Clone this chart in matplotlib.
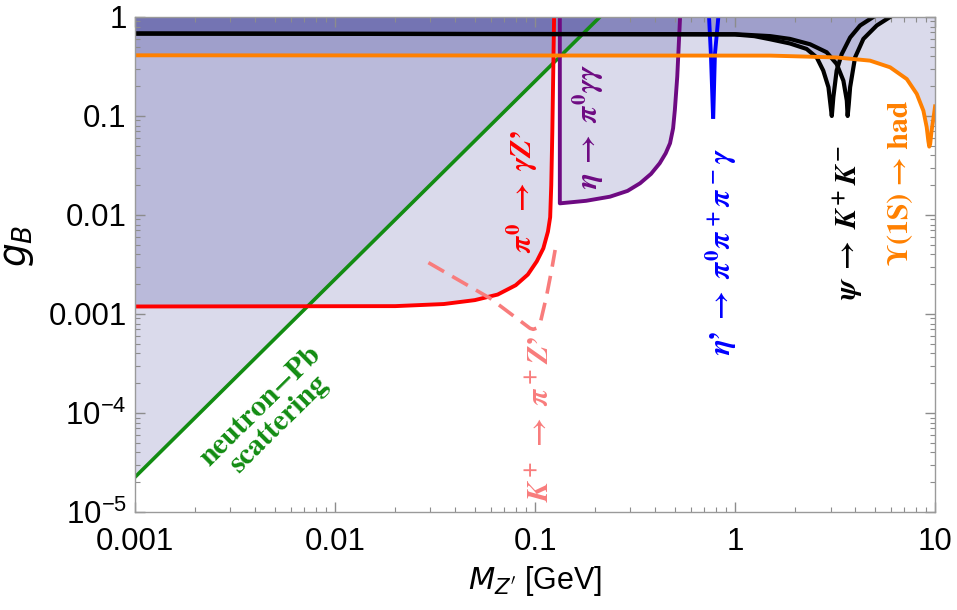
import numpy as np
import matplotlib
matplotlib.use("Agg")
import matplotlib.pyplot as plt
from matplotlib.ticker import FixedLocator, FixedFormatter, LogLocator, NullFormatter

plt.rcParams['font.family'] = ['Liberation Sans', 'DejaVu Sans']
plt.rcParams['mathtext.fontset'] = 'custom'
plt.rcParams['mathtext.rm'] = 'STIXGeneral:bold'
plt.rcParams['mathtext.it'] = 'STIXGeneral:italic:bold'
plt.rcParams['mathtext.bf'] = 'STIXGeneral:bold'
plt.rcParams['mathtext.sf'] = 'Liberation Sans'
plt.rcParams['mathtext.fallback'] = 'stix'

# neutron-Pb scattering
green_x = [0.001, 0.211]
green_g = [2.25e-5, 1.0]

# pi0 -> gamma Z'
red_x = [0.001, 0.02, 0.035, 0.05, 0.065, 0.08, 0.092, 0.102, 0.110, 0.116, 0.119, 0.1205, 0.122, 0.1245]
red_g = [0.00119, 0.0012, 0.00126, 0.00138, 0.00157, 0.00195, 0.0025, 0.0034, 0.0046, 0.0068, 0.0095, 0.02, 0.07, 1.0]

# eta -> pi0 gamma gamma
purple_x = [0.133, 0.133, 0.18, 0.237, 0.29, 0.335, 0.38, 0.42, 0.45, 0.473, 0.49, 0.50, 0.514, 0.531]
purple_g = [1.0, 0.0131, 0.0139, 0.0153, 0.0175, 0.0209, 0.026, 0.0333, 0.042, 0.053, 0.075, 0.115, 0.25, 1.0]

# eta' -> pi0 pi+ pi- gamma
blue_lx = [0.741, 0.757, 0.776]
blue_lg = [1.0, 0.42, 0.098]
blue_rx = [0.825, 0.793, 0.778]
blue_rg = [1.0, 0.42, 0.098]

# psi -> K+ K-  (J/psi and psi(2S))
psi1_x = [0.001, 1.0, 1.25, 1.5, 1.88, 2.28, 2.56, 2.76, 2.93, 3.02, 3.045, 3.10, 3.22, 3.41, 3.76, 4.22, 4.91]
psi1_g = [0.68, 0.665, 0.64, 0.595, 0.54, 0.475, 0.39, 0.287, 0.195, 0.115, 0.10, 0.155, 0.287, 0.42, 0.62, 0.82, 1.0]
psi2_x = [0.001, 1.0, 1.5, 1.88, 2.37, 2.87, 3.22, 3.48, 3.62, 3.655, 3.70, 3.76, 3.98, 4.38, 5.11, 5.96]
psi2_g = [0.68, 0.67, 0.64, 0.60, 0.53, 0.44, 0.335, 0.227, 0.143, 0.10, 0.13, 0.195, 0.39, 0.60, 0.82, 1.0]

# Upsilon(1S) -> had
ups_x = [0.001, 1.5, 3.22, 4.73, 5.96, 7.22, 8.1, 8.74, 9.08, 9.25, 9.35, 9.45, 9.6, 9.85, 10.0]
ups_g = [0.41, 0.407, 0.39, 0.362, 0.31, 0.236, 0.167, 0.113, 0.077, 0.056, 0.049, 0.052, 0.07, 0.10, 0.125]

# K+ -> pi+ Z' (dashed)
kp_x = [0.0293, 0.0596, 0.0944, 0.098, 0.102, 0.106, 0.114, 0.121, 0.126]
kp_g = [0.0033, 0.00144, 0.000716, 0.0007, 0.00072, 0.0008, 0.0015, 0.00278, 0.00443]

fillc = (0.03, 0.03, 0.48)
fa = 0.15

fig = plt.figure(figsize=(9.57, 6.10), dpi=100)
ax = fig.add_axes([0.1411, 0.1607, 0.836, 0.8115])
ax.set_xscale('log')
ax.set_yscale('log')

for xs, gs in [(green_x, green_g), (red_x, red_g), (purple_x, purple_g),
               (psi1_x, psi1_g), (psi2_x, psi2_g), (ups_x, ups_g)]:
    ax.fill_between(xs, gs, 1.0, color=fillc, alpha=fa, lw=0)

ax.plot(green_x, green_g, color='#128c12', lw=2.6)
ax.plot(red_x, red_g, color='#ff0000', lw=2.8)
ax.plot(kp_x, kp_g, color='#f87c7c', lw=2.6, dashes=(5, 2.6))
ax.plot(purple_x, purple_g, color='#6e0a82', lw=2.8)
ax.plot(blue_lx, blue_lg, color='#0000ff', lw=2.8)
ax.plot(blue_rx, blue_rg, color='#0000ff', lw=2.8)
ax.plot(psi1_x, psi1_g, color='black', lw=3.0)
ax.plot(psi2_x, psi2_g, color='black', lw=3.0)
ax.plot(ups_x, ups_g, color='#ff8000', lw=2.8)

fs = 21.5
serif = ['STIXGeneral', 'Liberation Serif', 'DejaVu Serif']
arr = r"\;\rightarrow\;"
ax.text(0.0861, 0.0171, r"$\pi^0" + arr + r"\gamma Z’$", color='#ff0000', fontsize=fs,
        rotation=90, ha='center', va='center')
ax.text(0.184, 0.0794, r"$\eta" + arr + r"\pi^0\gamma\gamma$", color='#6e0a82', fontsize=fs,
        rotation=90, ha='center', va='center')
ax.text(0.851, 0.00423, r"$\eta’" + arr + r"\pi^0\pi^+\pi^-\gamma$", color='#0000ff', fontsize=fs,
        rotation=90, ha='center', va='center')
ax.text(3.67, 0.0083, r"$\psi" + arr + r"K^{\!+}K^{\!-}$", color='black', fontsize=fs,
        rotation=90, ha='center', va='center')
ax.text(6.76, 0.021, "Υ(1S) → had", color='#ff8000', fontsize=fs, fontweight='bold',
        family=serif, rotation=90, ha='center', va='center')
ax.text(0.107, 8.7e-5, r"$K^{\!+}" + arr + r"\pi^+Z’$", color='#f87c7c', fontsize=fs,
        rotation=90, ha='center', va='center')
ax.text(0.00473, 9.5e-5, "neutron−Pb\nscattering", color='#128c12', fontsize=fs,
        fontweight='bold', family=serif, rotation=44.7,
        ha='center', va='center', linespacing=0.95, rotation_mode='anchor')

ax.set_xlim(0.001, 10)
ax.set_ylim(1e-5, 1)

xt = [0.001, 0.01, 0.1, 1, 10]
xl = ['0.001', '0.01', '0.1', '1', '10']
yt = [1e-5, 1e-4, 1e-3, 1e-2, 1e-1, 1]
yl = [r'$\mathsf{10^{-5}}$', r'$\mathsf{10^{-4}}$', '0.001', '0.01', '0.1', '1']
ax.xaxis.set_major_locator(FixedLocator(xt))
ax.xaxis.set_major_formatter(FixedFormatter(xl))
ax.yaxis.set_major_locator(FixedLocator(yt))
ax.yaxis.set_major_formatter(FixedFormatter(yl))
ax.xaxis.set_minor_locator(LogLocator(base=10, subs=np.arange(2, 10)))
ax.yaxis.set_minor_locator(LogLocator(base=10, subs=np.arange(2, 10)))
ax.xaxis.set_minor_formatter(NullFormatter())
ax.yaxis.set_minor_formatter(NullFormatter())

ax.tick_params(which='both', direction='in', top=True, right=True, color='#8c8c8c', labelsize=22.5)
ax.tick_params(which='major', length=7, width=1)
ax.tick_params(which='minor', length=3.5, width=0.8)
ax.tick_params(axis='x', pad=10.5)
ax.tick_params(axis='y', pad=6)
for s in ax.spines.values():
    s.set_color('#9a9a9a')
    s.set_linewidth(1.0)

ax.set_xlabel(r"$M_{Z'}$ [GeV]", fontsize=22, math_fontfamily='dejavusans', labelpad=5)
ax.set_ylabel(r"$g_B$", fontsize=27, math_fontfamily='dejavusans')
ax.yaxis.set_label_coords(-0.124, 0.537)

fig.savefig('out.png', dpi=100)
